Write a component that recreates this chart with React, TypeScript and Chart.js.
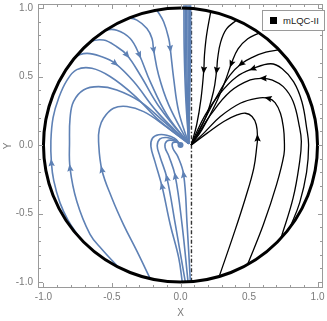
import React, { useEffect, useRef } from "react";
import { Chart, registerables } from "chart.js";
Chart.register(...registerables);

// ---- axes ----
const xRange = [-1.04, 1.04];
const yRange = [-1.043, 1.029];
const allTicks = [-1, -0.9, -0.8, -0.7, -0.6, -0.5, -0.4, -0.3, -0.2, -0.1, 0, 0.1, 0.2, 0.3, 0.4, 0.5, 0.6, 0.7, 0.8, 0.9, 1];
const majorTicks = [-1, -0.5, 0, 0.5, 1];
const majorTickLabels = ["-1.0", "-0.5", "0.0", "0.5", "1.0"];
const xTitle = "X";
const yTitle = "Y";
const legendLabel = "mLQC-II";

// ---- boundary and separatrix ----
const boundaryCenter = [0, 0];
const boundaryRadius = 1;
const separatrix = [[0.08, -0.997], [0.08, 0.997]];
const blueFocus = [[0.0, 0.0]];

// ---- blue trajectories (flow order) ----
const blueC1 = [[-0.172, 0.985], [-0.123, 0.899], [-0.086, 0.777], [-0.075, 0.705], [-0.05, 0.487], [-0.013, 0.244], [0.06, 0.01]];
const blueC2 = [[-0.47, 0.882], [-0.379, 0.925], [-0.318, 0.911], [-0.245, 0.85], [-0.208, 0.777], [-0.196, 0.693], [-0.16, 0.511], [-0.086, 0.293], [0.06, 0.01]];
const blueC3 = [[-0.64, 0.768], [-0.55, 0.835], [-0.465, 0.838], [-0.367, 0.777], [-0.3, 0.657], [-0.221, 0.463], [-0.099, 0.22], [0.06, 0.01]];
const blueC4 = [[-0.75, 0.661], [-0.66, 0.751], [-0.562, 0.766], [-0.465, 0.717], [-0.391, 0.657], [-0.294, 0.511], [-0.148, 0.268], [0.06, 0.01]];
const blueC5 = [[-0.85, 0.527], [-0.77, 0.638], [-0.684, 0.669], [-0.574, 0.644], [-0.477, 0.596], [-0.342, 0.463], [-0.172, 0.244], [0.06, 0.01]];
const blueC6 = [[-0.74, -0.672], [-0.82, -0.55], [-0.88, -0.42], [-0.925, -0.26], [-0.942, -0.13], [-0.946, 0.03], [-0.93, 0.2], [-0.89, 0.34], [-0.83, 0.47], [-0.757, 0.55], [-0.647, 0.56], [-0.514, 0.5], [-0.342, 0.366], [-0.148, 0.172], [0.06, 0.01]];
const blueL2 = [[-0.452, -0.892], [-0.574, -0.76], [-0.66, -0.652], [-0.757, -0.41], [-0.806, -0.168], [-0.81, 0.026], [-0.806, 0.196], [-0.781, 0.317], [-0.708, 0.402], [-0.598, 0.426], [-0.465, 0.402], [-0.294, 0.317], [-0.123, 0.172], [0.06, 0.01]];
const blueL1 = [[-0.221, -0.975], [-0.318, -0.774], [-0.416, -0.58], [-0.501, -0.386], [-0.574, -0.18], [-0.598, 0.026], [-0.592, 0.12], [-0.562, 0.196], [-0.489, 0.268], [-0.391, 0.281], [-0.269, 0.244], [-0.123, 0.148], [0.06, 0.01]];
const blueS1 = [[0.013, -1.0], [-0.013, -0.823], [-0.075, -0.58], [-0.135, -0.301], [-0.187, -0.119], [-0.216, -0.01], [-0.205, 0.05], [-0.16, 0.075], [-0.1, 0.072], [-0.045, 0.05], [0.0, 0.005]];
const blueS2 = [[0.035, -0.999], [-0.038, -0.577], [-0.099, -0.241], [-0.15, -0.083], [-0.17, -0.005], [-0.15, 0.045], [-0.1, 0.055], [-0.045, 0.038], [0.0, 0.005]];
const blueS3 = [[0.055, -0.998], [0.011, -0.577], [-0.038, -0.228], [-0.084, -0.083], [-0.113, -0.015], [-0.1, 0.028], [-0.055, 0.033], [0.0, 0.005]];
const blueS4 = [[0.072, -0.997], [0.048, -0.577], [0.023, -0.216], [-0.02, -0.083], [-0.055, -0.025], [-0.058, 0.015], [-0.025, 0.02], [0.0, 0.005]];
const blueBand1 = [[0.025, 1.02], [0.027, 0.7], [0.038, 0.35], [0.06, 0.01]];
const blueBand2 = [[0.035, 1.02], [0.036, 0.7], [0.044, 0.35], [0.06, 0.01]];
const blueBand3 = [[0.045, 1.02], [0.046, 0.7], [0.05, 0.35], [0.06, 0.01]];
const blueBand4 = [[0.055, 1.02], [0.056, 0.7], [0.057, 0.35], [0.06, 0.01]];
const blueBand5 = [[0.065, 1.02], [0.065, 0.7], [0.062, 0.35], [0.06, 0.01]];
const blueBand6 = [[0.074, 1.02], [0.073, 0.7], [0.067, 0.35], [0.06, 0.01]];

// ---- black trajectories (flow order) ----
const blackK1 = [[0.221, 0.975], [0.19, 0.8], [0.175, 0.657], [0.17, 0.548], [0.15, 0.341], [0.118, 0.148], [0.078, 0.0]];
const blackK2 = [[0.41, 0.912], [0.336, 0.847], [0.293, 0.751], [0.271, 0.63], [0.264, 0.546], [0.24, 0.388], [0.181, 0.195], [0.078, 0.0]];
const blackK3 = [[0.575, 0.818], [0.491, 0.775], [0.42, 0.702], [0.371, 0.593], [0.324, 0.461], [0.252, 0.292], [0.156, 0.111], [0.078, 0.0]];
const blackK4 = [[0.72, 0.694], [0.623, 0.678], [0.528, 0.642], [0.444, 0.593], [0.36, 0.509], [0.264, 0.352], [0.156, 0.147], [0.078, 0.0]];
const blackK5 = [[0.8, -0.6], [0.87, -0.42], [0.92, -0.2], [0.935, 0.0], [0.921, 0.122], [0.886, 0.316], [0.826, 0.461], [0.742, 0.557], [0.658, 0.593], [0.528, 0.557], [0.408, 0.497], [0.288, 0.376], [0.181, 0.22], [0.109, 0.075], [0.078, 0.0]];
const blackK6 = [[0.733, -0.68], [0.822, -0.386], [0.87, -0.119], [0.882, 0.026], [0.87, 0.123], [0.822, 0.317], [0.75, 0.426], [0.665, 0.475], [0.605, 0.487], [0.509, 0.475], [0.363, 0.39], [0.219, 0.22], [0.134, 0.087], [0.078, 0.0]];
const blackK7 = [[0.489, -0.872], [0.605, -0.58], [0.701, -0.289], [0.755, -0.07], [0.758, 0.03], [0.752, 0.12], [0.73, 0.23], [0.69, 0.31], [0.641, 0.341], [0.556, 0.341], [0.436, 0.305], [0.291, 0.208], [0.17, 0.087], [0.078, 0.0]];
const blackK8 = [[0.282, -0.96], [0.388, -0.652], [0.474, -0.386], [0.535, -0.168], [0.558, 0.0], [0.562, 0.05], [0.553, 0.148], [0.522, 0.208], [0.474, 0.232], [0.413, 0.22], [0.316, 0.172], [0.195, 0.087], [0.078, 0.0]];

// which vertex carries an arrowhead (style, not data)
const blueCurves = [
  { pts: blueC1, arrow: 3 }, { pts: blueC2, arrow: 5 }, { pts: blueC3, arrow: 4 },
  { pts: blueC4, arrow: 4 }, { pts: blueC5, arrow: 4 }, { pts: blueC6, arrow: 4 },
  { pts: blueL2, arrow: 4 }, { pts: blueL1, arrow: 4 },
  { pts: blueS1, arrow: 3 }, { pts: blueS2, arrow: 2 }, { pts: blueS3, arrow: 2 }, { pts: blueS4, arrow: 2 },
  { pts: blueBand1, arrow: -1 }, { pts: blueBand2, arrow: -1 }, { pts: blueBand3, arrow: -1 },
  { pts: blueBand4, arrow: -1 }, { pts: blueBand5, arrow: -1 }, { pts: blueBand6, arrow: -1 },
];
const blackCurves = [
  { pts: blackK1, arrow: 3 }, { pts: blackK2, arrow: 4 }, { pts: blackK3, arrow: 3 },
  { pts: blackK4, arrow: 3 }, { pts: blackK5, arrow: 9 }, { pts: blackK6, arrow: 8 },
  { pts: blackK7, arrow: 8 }, { pts: blackK8, arrow: 5 },
];

const BLUE = "#5E81B5";
const TICK_COLOR = "#7a7a7a";
const FRAME_COLOR = "#9a9a9a";
const FONT = "'Liberation Sans', Arial, sans-serif";

const toXY = (a: number[][]) => a.map(([x, y]) => ({ x, y }));
const isMajor = (v: number) => majorTicks.findIndex((m) => Math.abs(m - v) < 1e-9);

const boundaryPlugin = {
  id: "boundary",
  afterDatasetsDraw(chart: any) {
    const { ctx, scales } = chart;
    const cx = scales.x.getPixelForValue(boundaryCenter[0]);
    const cy = scales.y.getPixelForValue(boundaryCenter[1]);
    const rx = scales.x.getPixelForValue(boundaryCenter[0] + boundaryRadius) - cx;
    const ry = cy - scales.y.getPixelForValue(boundaryCenter[1] + boundaryRadius);
    ctx.save();
    ctx.beginPath();
    ctx.ellipse(cx, cy, rx, ry, 0, 0, Math.PI * 2);
    ctx.lineWidth = 3;
    ctx.strokeStyle = "#000";
    ctx.stroke();
    // arrowheads
    chart.data.datasets.forEach((ds: any, i: number) => {
      if (ds.arrowIndex == null || ds.arrowIndex < 0) return;
      const pts = chart.getDatasetMeta(i).data;
      const k = ds.arrowIndex;
      const p = pts[k], a = pts[k - 1] || p, b = pts[k + 1] || p;
      let dx = b.x - a.x, dy = b.y - a.y;
      const len = Math.hypot(dx, dy) || 1;
      dx /= len; dy /= len;
      const L = 7.5, W = 3.2;
      const tipX = p.x + dx * L * 0.55, tipY = p.y + dy * L * 0.55;
      const bx = p.x - dx * L * 0.45, by = p.y - dy * L * 0.45;
      ctx.beginPath();
      ctx.moveTo(tipX, tipY);
      ctx.lineTo(bx - dy * W, by + dx * W);
      ctx.lineTo(bx + dx * 1.2, by + dy * 1.2);
      ctx.lineTo(bx + dy * W, by - dx * W);
      ctx.closePath();
      ctx.fillStyle = ds.borderColor;
      ctx.fill();
    });
    ctx.restore();
  },
  afterDraw(chart: any) {
    const { ctx, chartArea, scales } = chart;
    const { left, right, top, bottom } = chartArea;
    ctx.save();
    ctx.strokeStyle = FRAME_COLOR;
    ctx.lineWidth = 1;
    ctx.strokeRect(left + 0.5, top + 0.5, right - left - 1, bottom - top - 1);
    ctx.beginPath();
    allTicks.forEach((v) => {
      const len = isMajor(v) >= 0 ? 5 : 3;
      const px = Math.round(scales.x.getPixelForValue(v)) + 0.5;
      ctx.moveTo(px, bottom); ctx.lineTo(px, bottom - len);
      ctx.moveTo(px, top); ctx.lineTo(px, top + len);
      const py = Math.round(scales.y.getPixelForValue(v)) + 0.5;
      ctx.moveTo(left, py); ctx.lineTo(left + len, py);
      ctx.moveTo(right, py); ctx.lineTo(right - len, py);
    });
    ctx.stroke();
    ctx.restore();
  },
};

export default function App() {
  const ref = useRef<HTMLCanvasElement>(null);
  useEffect(() => {
    if (!ref.current) return;
    const datasets: any[] = [];
    blueCurves.forEach((c) =>
      datasets.push({
        data: toXY(c.pts), showLine: true, pointRadius: 0, borderColor: BLUE,
        borderWidth: 1.6, tension: 0.4, fill: false, arrowIndex: c.arrow,
      })
    );
    blackCurves.forEach((c) =>
      datasets.push({
        data: toXY(c.pts), showLine: true, pointRadius: 0, borderColor: "#000",
        borderWidth: 1.3, tension: 0.4, fill: false, arrowIndex: c.arrow,
      })
    );
    datasets.push({
      data: toXY(separatrix), showLine: true, pointRadius: 0, borderColor: "#333",
      borderWidth: 1.4, borderDash: [4, 2, 1.5, 2], tension: 0, fill: false,
    });
    datasets.push({
      data: toXY(blueFocus), showLine: false, pointRadius: 3, pointBackgroundColor: BLUE,
      pointBorderWidth: 0, pointBorderColor: BLUE,
    });
    const tickFont = { family: FONT, size: 10 };
    const chart = new Chart(ref.current, {
      type: "scatter",
      data: { datasets },
      plugins: [boundaryPlugin],
      options: {
        animation: false,
        responsive: false,
        maintainAspectRatio: false,
        devicePixelRatio: 1,
        layout: { padding: { left: 0, right: 2, top: 2, bottom: 0 } },
        plugins: { legend: { display: false }, tooltip: { enabled: false } },
        scales: {
          x: {
            type: "linear", min: xRange[0], max: xRange[1],
            grid: { display: false, drawTicks: false, tickLength: 0 }, border: { display: false },
            afterBuildTicks: (s: any) => { s.ticks = allTicks.map((v) => ({ value: v })); },
            afterFit: (s: any) => { s.height = 33; s.paddingLeft = 0; s.paddingRight = 0; },
            ticks: {
              autoSkip: false, maxRotation: 0, padding: 3, color: TICK_COLOR, font: tickFont,
              callback: (v: any) => { const i = isMajor(Number(v)); return i >= 0 ? majorTickLabels[i] : ""; },
            },
            title: { display: true, text: xTitle, color: TICK_COLOR, font: { family: FONT, size: 10 }, padding: { top: 0, bottom: 2 } },
          },
          y: {
            type: "linear", min: yRange[0], max: yRange[1],
            grid: { display: false, drawTicks: false, tickLength: 0 }, border: { display: false },
            afterBuildTicks: (s: any) => { s.ticks = allTicks.map((v) => ({ value: v })); },
            afterFit: (s: any) => { s.width = 38; s.paddingTop = 0; s.paddingBottom = 0; },
            ticks: {
              autoSkip: false, padding: 5, color: TICK_COLOR, font: tickFont,
              callback: (v: any) => { const i = isMajor(Number(v)); return i >= 0 ? majorTickLabels[i] : ""; },
            },
            title: { display: true, text: yTitle, color: TICK_COLOR, font: { family: FONT, size: 10 }, padding: { top: 2, bottom: 0 } },
          },
        },
      } as any,
    });
    return () => chart.destroy();
  }, []);
  return (
    <div style={{ position: "fixed", left: 0, top: 0, width: 327, height: 321, background: "#fff" }}>
      <canvas ref={ref} width={327} height={321} style={{ display: "block", width: 327, height: 321 }} />
      <div
        style={{
          position: "absolute", left: 262, top: 10, width: 63, height: 21, boxSizing: "border-box",
          border: "1px solid #9a9a9a", background: "#fff", display: "flex", alignItems: "center",
          fontFamily: FONT, fontSize: 9.5, color: "#222", whiteSpace: "nowrap",
        }}
      >
        <span style={{ display: "inline-block", width: 7, height: 7, background: "#000", marginLeft: 7, marginRight: 6 }} />
        {legendLabel}
      </div>
    </div>
  );
}
